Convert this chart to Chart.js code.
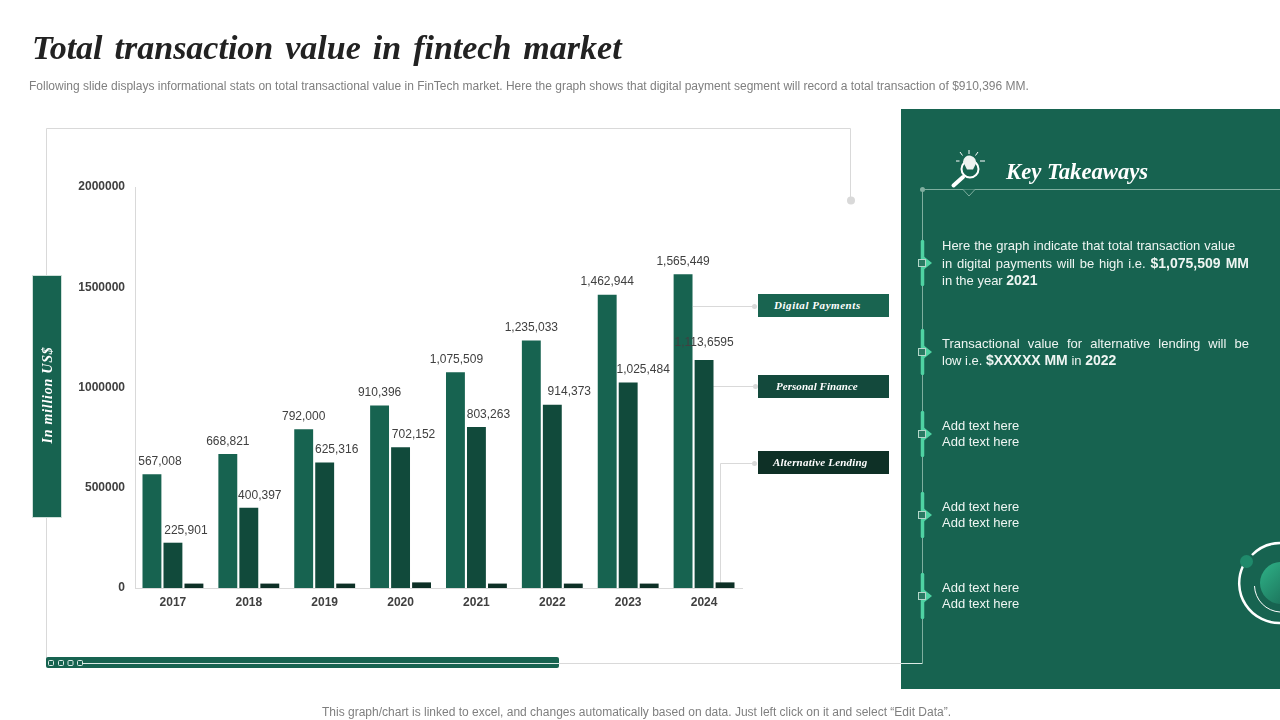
<!DOCTYPE html>
<html>
<head>
<meta charset="utf-8">
<title>Total transaction value in fintech market</title>
<script src="https://cdn.jsdelivr.net/npm/chart.js@4/dist/chart.umd.min.js"></script>
<style>
	html, body { margin: 0; padding: 0; background: #fff; }
	#page { position: relative; width: 1280px; height: 720px; overflow: hidden; font-family: "Liberation Sans", Arial, sans-serif; }
	#page > * { position: absolute; }
	#deco, #chart { left: 0; top: 0; }
	.serif { font-family: "Liberation Serif", serif; font-weight: bold; font-style: italic; white-space: nowrap; }
	#title { left: 32px; top: 27px; font-size: 34px; line-height: 42px; color: #222; word-spacing: 3.5px; }
	#subtitle { left: 29px; top: 78px; font-size: 12px; line-height: 16px; color: #7f7f7f; white-space: nowrap; }
	#footer { left: 322px; top: 704px; font-size: 12px; line-height: 16px; color: #7f7f7f; white-space: nowrap; }
	#panel { left: 901px; top: 109px; width: 379px; height: 580px; background: #176350; }
	#axis-box { left: 33px; top: 276px; width: 28px; height: 241px; background: #176350; box-shadow: 0 0 0 1px #cfe0da; }
	#axis-name { left: 48px; top: 395px; transform: translate(-50%, -50%) rotate(-90deg); font-size: 14px; color: #fff; letter-spacing: 0.75px; }
	#heading { left: 1006px; top: 157px; font-size: 22.7px; line-height: 30px; color: #fff; }
	.legend-box { left: 758px; width: 131px; height: 23px; line-height: 23px; color: #fff; font-size: 11px; box-sizing: border-box; }
	.note { left: 942px; width: 307px; color: #eef5f2; font-size: 13px; }
	.note b { font-size: 14px; }
	.just { text-align: justify; text-align-last: justify; }
	.note div { height: 17.5px; line-height: 17.5px; white-space: nowrap; }
	.note.plain div { height: 16px; line-height: 16px; }
</style>
</head>
<body>
<div id="page">
	<div id="panel"></div>
	<svg id="deco" width="1280" height="720" viewBox="0 0 1280 720">
		<!-- 图表外框 -->
		<path d="M46.5 660V128.5H850.5V200" fill="none" stroke="#d9d9d9" stroke-width="1"/>
		<circle cx="851" cy="200.5" r="4" fill="#d9d9d9"/>
		<rect x="46" y="657" width="513" height="11" rx="2" fill="#176350"/>
		<path d="M83 663.5H559" stroke="#dcebe6" stroke-width="1"/>
		<path d="M559 663.5H901" stroke="#d9d9d9" stroke-width="1"/>
		<path d="M901 663.5H922.5" stroke="#dcebe6" stroke-width="1"/>
		<g fill="none" stroke="#dcebe6" stroke-width="1">
			<rect x="48.5" y="660.5" width="5" height="5" rx="1"/>
			<rect x="58.5" y="660.5" width="5" height="5" rx="1"/>
			<rect x="68" y="660.5" width="5" height="5" rx="1"/>
			<rect x="77.5" y="660.5" width="5" height="5" rx="1"/>
		</g>
		<!-- 图例引线 -->
		<g fill="none" stroke="#d9d9d9" stroke-width="1">
			<path d="M693 306.5H754"/>
			<path d="M713 386.5H755"/>
			<path d="M720.5 583V463.5H754"/>
		</g>
		<g fill="#d9d9d9">
			<circle cx="754.5" cy="306.5" r="2.5"/>
			<circle cx="755.5" cy="386.5" r="2.5"/>
			<circle cx="754.5" cy="463.5" r="2.5"/>
		</g>
		<!-- 右侧时间线 -->
		<path d="M922.5 189V663.5M922.5 189.5H1280" fill="none" stroke="#7fae9f" stroke-width="1"/>
		<path d="M963 189.5L969 196L975 189.5" fill="#176350" stroke="#7fae9f" stroke-width="1"/>
		<circle cx="922.5" cy="189.5" r="2.5" fill="#7fae9f"/>
		<g id="bullets"></g>
		<!-- 放大镜灯泡图标 -->
		<g fill="none" stroke="#fff">
			<circle cx="970" cy="169" r="8.5" stroke-width="2"/>
			<path d="M963 177L953.5 185.5" stroke-width="4" stroke-linecap="round"/>
			<path d="M969 150V154M960 152L962.5 155.5M978 152L975.5 155.5M956 161H959.5M980 161H985" stroke-width="1"/>
		</g>
		<path d="M963 162a6.5 6.5 0 1 1 12.5 2.5l-2.5 5h-6l-2.5 -5z" fill="#eef2f0"/>
		<!-- 右下角圆环 -->
		<defs>
			<linearGradient id="ball" x1="0" y1="0" x2="1" y2="1">
				<stop offset="0" stop-color="#2fb388"/>
				<stop offset="1" stop-color="#176350"/>
			</linearGradient>
		</defs>
		<path d="M1252 555A40 40 0 0 1 1280 543" fill="none" stroke="#fff" stroke-width="2.5"/>
		<path d="M1243 566A40 40 0 0 0 1280 623" fill="none" stroke="#fff" stroke-width="2.5"/>
		<circle cx="1246.5" cy="561.5" r="6.5" fill="#1f8a6b"/>
		<circle cx="1281" cy="583" r="21" fill="url(#ball)"/>
		<path d="M1254.5 586A27 27 0 0 0 1280 612" fill="none" stroke="#fff" stroke-width="1"/>
	</svg>
	<canvas id="chart" width="1280" height="720"></canvas>

	<div id="title" class="serif">Total transaction value in fintech market</div>
	<div id="subtitle">Following slide displays informational stats on total transactional value in FinTech market. Here the graph shows that digital payment segment will record a total transaction of $910,396 MM.</div>
	<div id="footer">This graph/chart is linked to excel, and changes automatically based on data. Just left click on it and select “Edit Data”.</div>
	<div id="axis-box"></div>
	<div id="axis-name" class="serif">In million US$</div>
	<div id="heading" class="serif">Key Takeaways</div>
	<div class="legend-box serif" id="legend-0" style="top:294px;background:#196450;padding-left:16px;letter-spacing:0.55px"></div>
	<div class="legend-box serif" id="legend-1" style="top:375px;background:#13493c;padding-left:18px;letter-spacing:0.05px"></div>
	<div class="legend-box serif" id="legend-2" style="top:451px;background:#0e3026;padding-left:15px;letter-spacing:0.2px"></div>

	<div class="note" style="top:237px">
		<div style="word-spacing:0.4px">Here the graph indicate that total transaction value</div>
		<div class="just">in digital payments will be high i.e. <b>$1,075,509 MM</b></div>
		<div>in the year <b>2021</b></div>
	</div>
	<div class="note" style="top:334.5px">
		<div class="just">Transactional value for alternative lending will be</div>
		<div>low i.e. <b>$XXXXX MM</b> in <b>2022</b></div>
	</div>
	<div class="note plain" style="top:418px"><div>Add text here</div><div>Add text here</div></div>
	<div class="note plain" style="top:499px"><div>Add text here</div><div>Add text here</div></div>
	<div class="note plain" style="top:580px"><div>Add text here</div><div>Add text here</div></div>
</div>

<script>
// 图表数据
var categories = ["2017", "2018", "2019", "2020", "2021", "2022", "2023", "2024"];
var seriesNames = ["Digital Payments", "Personal Finance", "Alternative Lending"];
var digitalPayments = [567008, 668821, 792000, 910396, 1075509, 1235033, 1462944, 1565449];
var personalFinance = [225901, 400397, 625316, 702152, 803263, 914373, 1025484, 1136595];
var alternativeLending = [22000, 22000, 22000, 28000, 22000, 22000, 22000, 28000];
var digitalLabels = ["567,008", "668,821", "792,000", "910,396", "1,075,509", "1,235,033", "1,462,944", "1,565,449"];
var personalLabels = ["225,901", "400,397", "625,316", "702,152", "803,263", "914,373", "1,025,484", "1,113,6595"];
var yMax = 2000000;
var yStep = 500000;

var seriesColors = ["#176350", "#114a3b", "#0d3026"];
var textColor = "#404040";

// 数值标签相对柱顶的偏移，原图是手动摆放的
var labelShift = [
	[[8, 0], [0, 0], [0, 0], [0, 0], [1, 0], [0, 0], [0, 0], [0, 0]],
	[[13, 0], [11, 0], [12, 0], [13, 0], [12, 0], [17, 0], [15, 0], [0, -5]]
];

// 图例文字
seriesNames.forEach(function (name, i) {
	document.getElementById("legend-" + i).textContent = name;
});

// 时间线上的小标记
var bulletCenters = [263, 352, 434, 515, 596];
var bulletHtml = "";
bulletCenters.forEach(function (y) {
	bulletHtml += '<path d="M922.5 ' + (y - 21.5) + 'V' + (y + 21.5) + '" stroke="#4fd3a3" stroke-width="3.5" stroke-linecap="round"/>';
	bulletHtml += '<path d="M922 ' + (y - 8) + 'L932 ' + y + 'L922 ' + (y + 8) + 'z" fill="#4fd3a3"/>';
	bulletHtml += '<rect x="918.5" y="' + (y - 3.5) + '" width="7" height="7" fill="#2a7a63" stroke="#b5d6ca" stroke-width="1"/>';
});
document.getElementById("bullets").innerHTML = bulletHtml;

// 柱顶数值标签
var barLabels = {
	id: "barLabels",
	afterDatasetsDraw: function (chart) {
		var ctx = chart.ctx;
		var texts = [digitalLabels, personalLabels];
		ctx.save();
		ctx.font = "12px 'Liberation Sans', Arial, sans-serif";
		ctx.fillStyle = textColor;
		ctx.textAlign = "center";
		ctx.textBaseline = "middle";
		texts.forEach(function (list, s) {
			chart.getDatasetMeta(s).data.forEach(function (bar, i) {
				ctx.fillText(list[i], bar.x + labelShift[s][i][0], bar.y - 12.5 + labelShift[s][i][1]);
			});
		});
		ctx.restore();
	}
};

var chart = new Chart(document.getElementById("chart").getContext("2d"), {
	type: "bar",
	data: {
		labels: categories,
		datasets: [
			{ label: seriesNames[0], data: digitalPayments, backgroundColor: seriesColors[0] },
			{ label: seriesNames[1], data: personalFinance, backgroundColor: seriesColors[1] },
			{ label: seriesNames[2], data: alternativeLending, backgroundColor: seriesColors[2] }
		]
	},
	options: {
		responsive: false,
		animation: false,
		devicePixelRatio: 1,
		layout: { padding: { left: 75, right: 538, top: 187, bottom: 102 } },
		datasets: { bar: { categoryPercentage: 0.83, barPercentage: 0.9 } },
		plugins: {
			legend: { display: false },
			title: { display: false },
			tooltip: { enabled: false }
		},
		scales: {
			x: {
				grid: { display: false, drawTicks: false },
				border: { color: "#d9d9d9" },
				ticks: { color: textColor, padding: 7, font: { family: "'Liberation Sans'", size: 12, weight: "bold" } },
				afterFit: function (scale) { scale.height = 30; }
			},
			y: {
				min: 0,
				max: yMax,
				grid: { display: false, drawTicks: false },
				border: { color: "#d9d9d9" },
				ticks: {
					stepSize: yStep,
					color: textColor,
					padding: 10,
					font: { family: "'Liberation Sans'", size: 12, weight: "bold" },
					callback: function (value) { return String(value); }
				},
				afterFit: function (scale) { scale.width = 60; }
			}
		}
	},
	plugins: [barLabels]
});
</script>
</body>
</html>
